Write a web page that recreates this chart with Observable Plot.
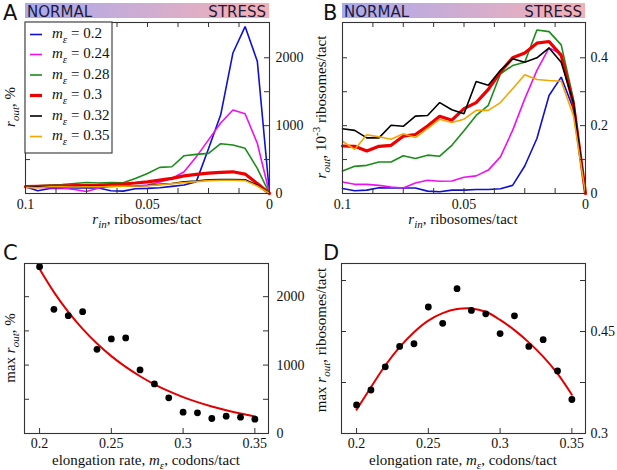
<!DOCTYPE html>
<html>
<head>
<meta charset="utf-8">
<script src="https://cdn.jsdelivr.net/npm/d3@7"></script>
<script src="https://cdn.jsdelivr.net/npm/@observablehq/plot@0.6"></script>
<style>
  html, body { margin: 0; padding: 0; background: #fff; }
  #root { position: relative; width: 617px; height: 470px; background: #fff; overflow: hidden; }
  #root > svg { position: absolute; }
</style>
</head>
<body>
<div id="root"></div>
<script>
// ---------- data ----------
const rin = [0.1, 0.095, 0.09, 0.085, 0.08, 0.075, 0.07, 0.065, 0.06, 0.055, 0.05,
             0.045, 0.04, 0.035, 0.03, 0.025, 0.02, 0.015, 0.01, 0.005, 0];
const mLabels = ["0.2", "0.24", "0.28", "0.3", "0.32", "0.35"];

// Panel A: r_out, %
const aM020 = [98, 40, 75, 75, 80, 80, 80, 40, 35, 70, 75, 85, 105, 125, 175, 660, 1160, 2070, 2460, 1950, 0];
const aM024 = [100, 90, 85, 80, 60, 30, 80, 110, 120, 110, 125, 170, 220, 320, 540, 790, 1040, 1230, 1175, 740, 0];
const aM028 = [98, 113, 123, 133, 148, 163, 155, 163, 157, 222, 296, 385, 394, 557, 577, 592, 734, 715, 666, 370, 0];
const aM030 = [100, 105, 110, 110, 115, 115, 120, 130, 140, 155, 172, 197, 222, 260, 281, 300, 311, 320, 286, 148, 0];
const aM032 = [95, 95, 100, 100, 100, 105, 105, 105, 110, 112, 118, 135, 148, 172, 182, 202, 207, 207, 202, 123, 0];
const aM035 = [90, 85, 100, 100, 95, 100, 100, 105, 108, 110, 115, 130, 145, 160, 175, 190, 195, 195, 190, 110, 0];

// Panel B: r_out, 10^-3 ribosomes/tact
const bM020 = [0.015, 0.008, 0.010, 0.017, 0.016, 0.016, 0.016, 0.007, 0.005, 0.010, 0.010, 0.012, 0.012, 0.014, 0.024, 0.081, 0.162, 0.289, 0.343, 0.250, 0];
const bM024 = [0.034, 0.027, 0.027, 0.024, 0.019, 0.016, 0.031, 0.039, 0.036, 0.037, 0.048, 0.052, 0.069, 0.108, 0.186, 0.279, 0.363, 0.429, 0.412, 0.260, 0];
const bM028 = [0.066, 0.080, 0.083, 0.093, 0.093, 0.111, 0.103, 0.113, 0.110, 0.142, 0.185, 0.230, 0.260, 0.353, 0.377, 0.387, 0.482, 0.477, 0.438, 0.279, 0];
const bM030 = [0.140, 0.139, 0.125, 0.139, 0.142, 0.169, 0.174, 0.199, 0.228, 0.216, 0.250, 0.268, 0.307, 0.358, 0.400, 0.414, 0.443, 0.448, 0.407, 0.265, 0];
const bM032 = [0.191, 0.186, 0.164, 0.164, 0.201, 0.198, 0.228, 0.230, 0.268, 0.247, 0.235, 0.330, 0.319, 0.363, 0.397, 0.387, 0.400, 0.429, 0.387, 0.270, 0];
const bM035 = [0.154, 0.130, 0.173, 0.167, 0.160, 0.176, 0.165, 0.191, 0.219, 0.209, 0.219, 0.245, 0.245, 0.268, 0.309, 0.350, 0.336, 0.333, 0.331, 0.230, 0];

// Panels C and D
const mE   = [0.2, 0.21, 0.22, 0.23, 0.24, 0.25, 0.26, 0.27, 0.28, 0.29, 0.3, 0.31, 0.32, 0.33, 0.34, 0.35];
const cMax = [2438, 1815, 1723, 1781, 1231, 1382, 1397, 930, 725, 521, 311, 302, 219, 253, 238, 209];
const cFit = [2404, 2067, 1778, 1529, 1315, 1131, 973, 837, 719, 619, 532, 458, 394, 339, 291, 250];
const dMax = [0.342, 0.364, 0.398, 0.428, 0.432, 0.486, 0.462, 0.513, 0.481, 0.476, 0.447, 0.473, 0.428, 0.438, 0.392, 0.350];
const dFit = [0.335, 0.368, 0.400, 0.427, 0.449, 0.466, 0.477, 0.483, 0.484, 0.479, 0.467, 0.452, 0.434, 0.413, 0.388, 0.357];

// tick values
const abMinorX = [0, 0.0125, 0.025, 0.0375, 0.05, 0.0625, 0.075, 0.0875, 0.1];
const abLabelX = [0.1, 0.05, 0];
const aMinorY = [500, 1000, 1500, 2000];
const aLabelY = [0, 1000, 2000];
const bMinorY = [0.1, 0.2, 0.3, 0.4];
const bLabelY = [0, 0.2, 0.4];
const cdTickX = [0.2, 0.25, 0.3, 0.35];
const cMinorY = [500, 1000, 1500, 2000];
const cLabelY = [0, 1000, 2000];
const dMinorY = [0.375, 0.45, 0.525];
const dLabelY = [0.3, 0.45];

// ---------- styles ----------
const seriesColors = ["#1010d0", "#ee11ee", "#1a8c1a", "#ee0000", "#000000", "#f5a500"];
const seriesWidths = [1.6, 1.6, 1.6, 3.2, 1.6, 1.6];
const fitColor = "#e00000";
const axisColor = "#333";
const serif = "'Liberation Serif', 'Times New Roman', serif";
const sans = "'DejaVu Sans', sans-serif";

const aSeries = [aM020, aM024, aM028, aM030, aM032, aM035];
const bSeries = [bM020, bM024, bM028, bM030, bM032, bM035];

function panel(cfg) {
  const {left, top, width, height, ml, mr, mt, mb, xDomain, yDomain,
         minorX, labelX, minorY, labelY, topTicks, xPad, yPad, marks} = cfg;
  const fw = width - ml - mr, fh = height - mt - mb;
  const m = [...marks];
  m.push(Plot.tickX(minorX, {x: d => d, insetTop: fh - 5, stroke: axisColor}));
  if (topTicks) m.push(Plot.tickX(minorX, {x: d => d, insetBottom: fh - 5, stroke: axisColor}));
  m.push(Plot.tickY(minorY, {y: d => d, insetRight: fw - 5, stroke: axisColor}));
  m.push(Plot.tickY(minorY, {y: d => d, insetLeft: fw - 5, stroke: axisColor}));
  m.push(Plot.axisX({ticks: labelX, tickSize: 0, tickPadding: xPad, tickFormat: d => String(d), label: null, fill: "#111"}));
  m.push(Plot.axisY({anchor: "right", ticks: labelY, tickSize: 0, tickPadding: yPad, tickFormat: d => String(d), label: null, fill: "#111"}));
  m.push(Plot.frame({stroke: axisColor, strokeWidth: 1.1}));
  const svg = Plot.plot({
    width, height,
    marginLeft: ml, marginRight: mr, marginTop: mt, marginBottom: mb,
    x: {domain: xDomain},
    y: {domain: yDomain},
    style: {fontFamily: serif, fontSize: "14px", background: "transparent", color: "#111", overflow: "visible"},
    marks: m
  });
  svg.style.left = left + "px";
  svg.style.top = top + "px";
  return svg;
}

function seriesMarks(seriesList) {
  return seriesList.map((vals, i) =>
    Plot.line(rin.map((x, j) => ({x, y: vals[j]})), {
      x: "x", y: "y", stroke: seriesColors[i], strokeWidth: seriesWidths[i],
      strokeLinejoin: "miter"
    })
  );
}

const root = document.getElementById("root");

root.appendChild(panel({
  left: 0, top: 0, width: 308, height: 235, ml: 25, mr: 39, mt: 22, mb: 42,
  xDomain: [0.1, 0], yDomain: [0, 2520],
  minorX: abMinorX, labelX: abLabelX, minorY: aMinorY, labelY: aLabelY, topTicks: true, xPad: 6, yPad: 6,
  marks: seriesMarks(aSeries)
}));

root.appendChild(panel({
  left: 308, top: 0, width: 309, height: 235, ml: 34, mr: 32, mt: 22, mb: 42,
  xDomain: [0.1, 0], yDomain: [0, 0.504],
  minorX: abMinorX, labelX: abLabelX, minorY: bMinorY, labelY: bLabelY, topTicks: true, xPad: 6, yPad: 5,
  marks: seriesMarks(bSeries)
}));

root.appendChild(panel({
  left: 0, top: 240, width: 308, height: 230, ml: 24, mr: 40, mt: 23, mb: 37,
  xDomain: [0.1895, 0.3595], yDomain: [0, 2485],
  minorX: cdTickX, labelX: cdTickX, minorY: cMinorY, labelY: cLabelY, topTicks: false, xPad: 5, yPad: 8,
  marks: [
    Plot.line(mE.map((x, j) => ({x, y: cFit[j]})), {x: "x", y: "y", stroke: fitColor, strokeWidth: 2, curve: "catmull-rom"}),
    Plot.dot(mE.map((x, j) => ({x, y: cMax[j]})), {x: "x", y: "y", r: 3.4, fill: "#000"})
  ]
}));

root.appendChild(panel({
  left: 308, top: 240, width: 309, height: 230, ml: 33, mr: 32, mt: 23, mb: 37,
  xDomain: [0.1895, 0.3595], yDomain: [0.3, 0.55],
  minorX: cdTickX, labelX: cdTickX, minorY: dMinorY, labelY: dLabelY, topTicks: false, xPad: 5, yPad: 5,
  marks: [
    Plot.line(mE.map((x, j) => ({x, y: dFit[j]})), {x: "x", y: "y", stroke: fitColor, strokeWidth: 2, curve: "catmull-rom"}),
    Plot.dot(mE.map((x, j) => ({x, y: dMax[j]})), {x: "x", y: "y", r: 3.4, fill: "#000"})
  ]
}));

// ---------- overlay: panel letters, gradient bars, axis titles, legend ----------
const NS = "http://www.w3.org/2000/svg";
const ov = document.createElementNS(NS, "svg");
ov.setAttribute("width", 617);
ov.setAttribute("height", 470);
ov.style.left = "0px"; ov.style.top = "0px"; ov.style.pointerEvents = "none";
root.appendChild(ov);

function el(tag, attrs, parent = ov) {
  const e = document.createElementNS(NS, tag);
  for (const k in attrs) e.setAttribute(k, attrs[k]);
  parent.appendChild(e);
  return e;
}
function txt(attrs, parts, parent = ov) {
  const t = el("text", attrs, parent);
  for (const p of parts) {
    const s = el("tspan", p.a || {}, t);
    s.textContent = p.t;
  }
  return t;
}

// gradient
const defs = el("defs", {});
const grad = el("linearGradient", {id: "ns", x1: "0", x2: "1", y1: "0", y2: "0"}, defs);
el("stop", {offset: "0", "stop-color": "#a9a9ee"}, grad);
el("stop", {offset: "1", "stop-color": "#f6b0b4"}, grad);

const bars = [{x0: 25, x1: 269}, {x0: 342, x1: 585}];
for (const b of bars) {
  el("rect", {x: b.x0, y: 3, width: b.x1 - b.x0, height: 15, fill: "url(#ns)"});
  txt({x: b.x0 + 2, y: 16.5, "font-family": sans, "font-size": 15, fill: "#1b1b3a"}, [{t: "NORMAL"}]);
  txt({x: b.x1 - 3, y: 16.5, "font-family": sans, "font-size": 15, fill: "#1b1b3a", "text-anchor": "end"}, [{t: "STRESS"}]);
}

// panel letters
const letters = [["A", 3, 20], ["B", 323, 20], ["C", 3, 260], ["D", 323, 260]];
for (const [l, x, y] of letters) txt({x, y, "font-family": sans, "font-size": 21, fill: "#111"}, [{t: l}]);

const it = {"font-style": "italic"};
const sub = (t) => ({t, a: {"font-style": "italic", "font-size": 11, dy: 4}});
const back = (t) => ({t, a: {dy: -4}});

// x axis titles
txt({x: 147, y: 224, "font-family": serif, "font-size": 15, "text-anchor": "middle", fill: "#111"},
    [{t: "r", a: it}, sub("in"), back(", ribosomes/tact")]);
txt({x: 463, y: 224, "font-family": serif, "font-size": 15, "text-anchor": "middle", fill: "#111"},
    [{t: "r", a: it}, sub("in"), back(", ribosomes/tact")]);
txt({x: 146, y: 465, "font-family": serif, "font-size": 15, "text-anchor": "middle", fill: "#111"},
    [{t: "elongation rate, "}, {t: "m", a: it}, sub("ε"), back(", codons/tact")]);
txt({x: 463, y: 465, "font-family": serif, "font-size": 15, "text-anchor": "middle", fill: "#111"},
    [{t: "elongation rate, "}, {t: "m", a: it}, sub("ε"), back(", codons/tact")]);

// y axis titles (rotated)
txt({transform: "translate(15,107) rotate(-90)", "font-family": serif, "font-size": 15, "text-anchor": "middle", fill: "#111"},
    [{t: "r", a: it}, sub("out"), back(", %")]);
txt({transform: "translate(326,107) rotate(-90)", "font-family": serif, "font-size": 15, "text-anchor": "middle", fill: "#111"},
    [{t: "r", a: it}, sub("out"), back(", 10"), {t: "-3", a: {"font-size": 11, dy: -6}}, {t: " ribosomes/tact", a: {dy: 6}}]);
txt({transform: "translate(15,348) rotate(-90)", "font-family": serif, "font-size": 15, "text-anchor": "middle", fill: "#111"},
    [{t: "max "}, {t: "r", a: it}, sub("out"), back(", %")]);
txt({transform: "translate(326,340) rotate(-90)", "font-family": serif, "font-size": 15, "text-anchor": "middle", fill: "#111"},
    [{t: "max "}, {t: "r", a: it}, sub("out"), back(", ribosomes/tact")]);

// legend in panel A
el("rect", {x: 25, y: 22, width: 87, height: 131, fill: "#fff", stroke: axisColor, "stroke-width": 1.1});
const rowY = [34.5, 54.5, 75, 95.5, 116, 136.5];
mLabels.forEach((lab, i) => {
  el("line", {x1: 30, x2: 42, y1: rowY[i], y2: rowY[i], stroke: seriesColors[i], "stroke-width": seriesWidths[i]});
  txt({x: 52, y: rowY[i] + 3.5, "font-family": serif, "font-size": 15, fill: "#111"},
      [{t: "m", a: it}, {t: "ε", a: {"font-style": "italic", "font-size": 11, dy: 5}}, {t: " = " + lab, a: {dy: -5}}]);
});
</script>
</body>
</html>
